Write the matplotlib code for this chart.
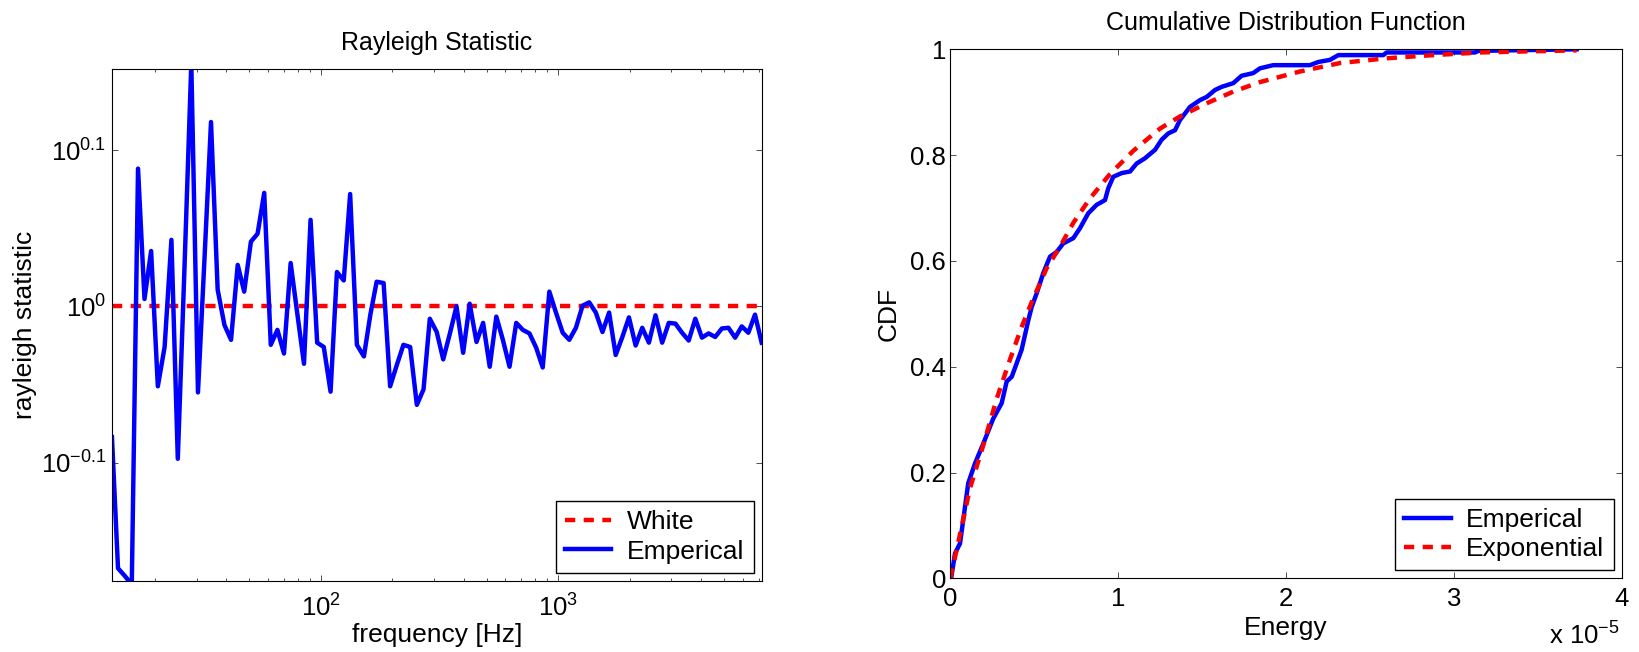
import matplotlib

matplotlib.use("Agg")

import matplotlib.pyplot as plt
from matplotlib.ticker import LogLocator, NullFormatter, NullLocator


# left panel: rayleigh statistic per frequency bin
freq_hz = [
    13.2, 14.0, 15.0, 16.0, 17.0, 18.1, 19.3, 20.6, 22.0, 23.5,
    25.0, 26.7, 28.5, 30.4, 32.4, 34.5, 36.8, 39.3, 41.9, 44.7,
    47.6, 50.8, 54.2, 57.8, 61.6, 65.7, 70.0, 74.7, 79.7, 85.0,
    90.6, 96.6, 103, 110, 117, 125, 133, 142, 152, 162,
    172, 184, 196, 209, 223, 238, 254, 271, 288, 308,
    328, 350, 373, 398, 424, 453, 483, 515, 549, 585,
    624, 666, 710, 757, 808, 861, 918, 979, 1045, 1114,
    1188, 1267, 1351, 1441, 1537, 1639, 1747, 1864, 1987, 2120,
    2260, 2411, 2571, 2742, 2924, 3118, 3325, 3547, 3782, 4034,
    4301, 4587, 4892, 5217, 5564, 5933, 6327, 6748, 7196,
]
rayleigh = [
    0.825, 0.680, 0.672, 0.664, 1.225, 1.011, 1.085, 0.889, 0.942, 1.103,
    0.799, 1.063, 1.429, 0.881, 1.074, 1.312, 1.025, 0.973, 0.952, 1.063,
    1.022, 1.100, 1.113, 1.182, 0.945, 0.966, 0.933, 1.066, 0.989, 0.919,
    1.136, 0.948, 0.942, 0.882, 1.052, 1.039, 1.180, 0.945, 0.929, 0.989,
    1.037, 1.035, 0.889, 0.917, 0.945, 0.942, 0.865, 0.885, 0.982, 0.963,
    0.925, 0.961, 1.000, 0.934, 1.004, 0.949, 0.976, 0.915, 0.985, 0.952,
    0.915, 0.976, 0.966, 0.961, 0.941, 0.914, 1.022, 0.991, 0.962, 0.952,
    0.969, 1.001, 1.006, 0.991, 0.963, 0.991, 0.931, 0.956, 0.984, 0.944,
    0.969, 0.948, 0.987, 0.948, 0.976, 0.975, 0.962, 0.951, 0.982, 0.955,
    0.961, 0.956, 0.968, 0.969, 0.955, 0.971, 0.962, 0.988, 0.948,
]
WHITE_LEVEL = 1.0
RAYLEIGH_LIM = (0.6677, 1.4186)
RAYLEIGH_TICKS = [10 ** -0.1, 1.0, 10 ** 0.1]
RAYLEIGH_TICK_LABELS = [r"$\mathregular{10^{-0.1}}$", r"$\mathregular{10^{0}}$", r"$\mathregular{10^{0.1}}$"]

# right panel: energy in units of 1e-5
emp_energy = [
    0.005, 0.028, 0.058, 0.107, 0.147, 0.197, 0.256, 0.306, 0.336, 0.366,
    0.425, 0.465, 0.485, 0.515, 0.554, 0.594, 0.634, 0.673, 0.733, 0.773,
    0.822, 0.872, 0.922, 0.941, 0.971, 1.021, 1.071, 1.110, 1.160, 1.220,
    1.259, 1.299, 1.339, 1.368, 1.428, 1.488, 1.528, 1.577, 1.617, 1.686,
    1.736, 1.805, 1.845, 1.924, 2.143, 2.193, 2.262, 2.312, 2.580, 2.600,
    3.126, 3.146, 3.732,
]
emp_cdf = [
    0.000, 0.047, 0.066, 0.180, 0.217, 0.255, 0.302, 0.331, 0.372, 0.381,
    0.432, 0.488, 0.513, 0.539, 0.577, 0.608, 0.617, 0.633, 0.643, 0.662,
    0.690, 0.706, 0.715, 0.737, 0.759, 0.766, 0.769, 0.784, 0.794, 0.810,
    0.829, 0.841, 0.847, 0.866, 0.891, 0.904, 0.910, 0.923, 0.929, 0.936,
    0.950, 0.955, 0.964, 0.970, 0.970, 0.976, 0.980, 0.989, 0.989, 0.994,
    0.994, 0.997, 1.000,
]
exp_energy = [
    0.000, 0.038, 0.117, 0.197, 0.276, 0.356, 0.425, 0.485, 0.574, 0.654,
    0.733, 0.832, 0.951, 1.090, 1.249, 1.368, 1.528, 1.686, 1.845, 2.083,
    2.322, 2.600, 2.878, 3.156, 3.434, 3.732,
]
exp_cdf = [
    0.000, 0.054, 0.170, 0.252, 0.339, 0.414, 0.475, 0.522, 0.586, 0.627,
    0.672, 0.718, 0.764, 0.808, 0.850, 0.873, 0.898, 0.920, 0.938, 0.958,
    0.974, 0.983, 0.989, 0.994, 0.996, 0.998,
]

BLUE = "#0000ff"
RED = "#ff0000"
LW = 3.2
DASHES = (2.3, 1.9)
TICK_FS = 18.5
LABEL_FS = 19
LEGEND_KW = dict(loc="lower right", fontsize=19, fancybox=False, edgecolor="black",
                 framealpha=1, borderaxespad=0.3, handlelength=1.75, handletextpad=0.6,
                 labelspacing=0.2, borderpad=0.35)

plt.rcParams["font.family"] = ["Liberation Sans", "DejaVu Sans"]
plt.rcParams["mathtext.fontset"] = "custom"
plt.rcParams["mathtext.rm"] = "Liberation Sans"
plt.rcParams["mathtext.it"] = "Liberation Sans:italic"
plt.rcParams["mathtext.bf"] = "Liberation Sans:bold"
plt.rcParams["axes.linewidth"] = 0.8
plt.rcParams["xtick.direction"] = "in"
plt.rcParams["ytick.direction"] = "in"
plt.rcParams["xtick.top"] = True
plt.rcParams["ytick.right"] = True
plt.rcParams["xtick.major.size"] = 4.5
plt.rcParams["ytick.major.size"] = 4.5
plt.rcParams["xtick.minor.size"] = 2.5
plt.rcParams["xtick.major.width"] = 0.6
plt.rcParams["ytick.major.width"] = 0.6
plt.rcParams["xtick.minor.width"] = 0.6
plt.rcParams["xtick.color"] = "#333333"
plt.rcParams["ytick.color"] = "#333333"
plt.rcParams["xtick.labelcolor"] = "black"
plt.rcParams["ytick.labelcolor"] = "black"

fig = plt.figure(figsize=(16.39, 6.52), dpi=100)
ax1 = fig.add_axes([0.0683, 0.1094, 0.3964, 0.7848])
ax2 = fig.add_axes([0.5798, 0.1130, 0.4096, 0.8114])

# ---- Rayleigh statistic
ax1.plot([freq_hz[0], freq_hz[-1]], [WHITE_LEVEL, WHITE_LEVEL], color=RED, lw=LW,
         dashes=DASHES, label="White")
ax1.plot(freq_hz, rayleigh, color=BLUE, lw=LW, label="Emperical")
ax1.set_xscale("log")
ax1.set_yscale("log")
ax1.set_xlim(freq_hz[0], freq_hz[-1])
ax1.set_ylim(*RAYLEIGH_LIM)
ax1.set_xticks([100, 1000], labels=[r"$\mathregular{10^{2}}$", r"$\mathregular{10^{3}}$"])
ax1.xaxis.set_minor_locator(LogLocator(base=10, subs=range(2, 10), numticks=20))
ax1.xaxis.set_minor_formatter(NullFormatter())
ax1.set_yticks(RAYLEIGH_TICKS, labels=RAYLEIGH_TICK_LABELS)
ax1.yaxis.set_minor_locator(NullLocator())
ax1.tick_params(axis="both", labelsize=TICK_FS)
ax1.tick_params(axis="x", pad=10)
ax1.tick_params(axis="y", pad=4)
ax1.set_xlabel("frequency [Hz]", fontsize=LABEL_FS, labelpad=1)
ax1.set_ylabel("rayleigh statistic", fontsize=LABEL_FS, labelpad=3)
ax1.set_title("Rayleigh Statistic", fontsize=18, pad=14)
ax1.legend(**LEGEND_KW)

# ---- CDF
ax2.plot(emp_energy, emp_cdf, color=BLUE, lw=LW, label="Emperical")
ax2.plot(exp_energy, exp_cdf, color=RED, lw=LW, dashes=DASHES, label="Exponential")
ax2.set_xlim(0, 4)
ax2.set_ylim(0, 1)
ax2.set_xticks([0, 1, 2, 3, 4])
ax2.set_yticks([0, 0.2, 0.4, 0.6, 0.8, 1.0], labels=["0", "0.2", "0.4", "0.6", "0.8", "1"])
ax2.tick_params(axis="both", labelsize=TICK_FS)
ax2.tick_params(axis="x", pad=6.5)
ax2.tick_params(axis="y", pad=3)
ax2.set_xlabel("Energy", fontsize=LABEL_FS, labelpad=3)
ax2.set_ylabel("CDF", fontsize=LABEL_FS, labelpad=7)
ax2.set_title("Cumulative Distribution Function", fontsize=18, pad=14)
ax2.legend(**LEGEND_KW)
fig.text(0.988, 0.011, r"x 10$^{-5}$", ha="right", va="baseline", fontsize=TICK_FS)

fig.savefig("out.png", dpi=100)
plt.close(fig)
